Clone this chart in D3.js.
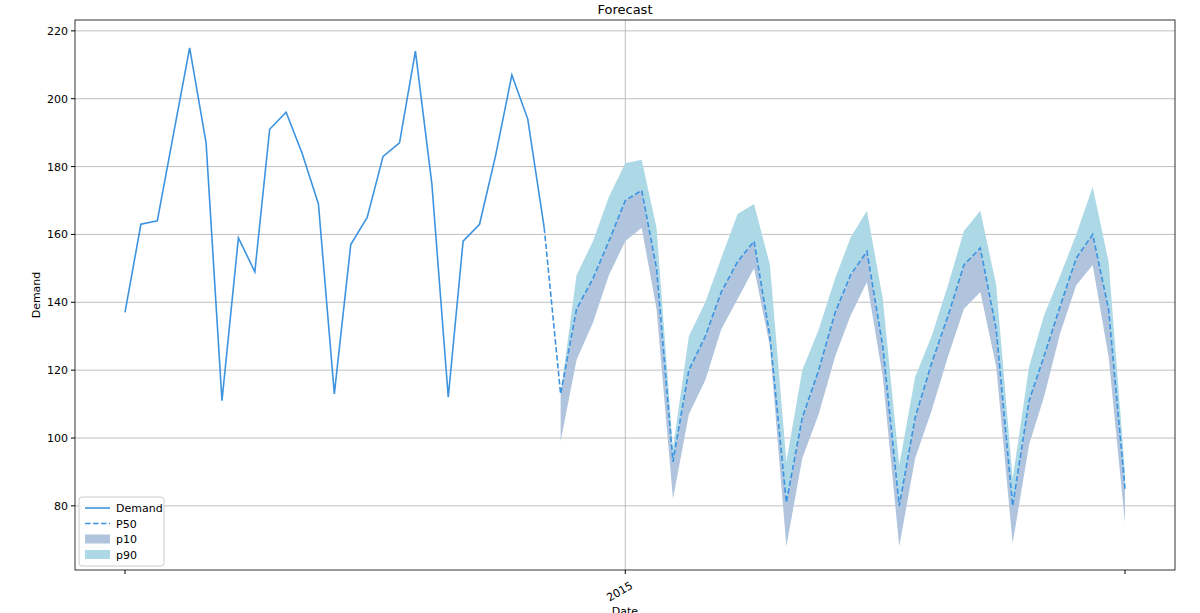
<!DOCTYPE html>
<html><head><meta charset="utf-8">
<script src="https://cdn.jsdelivr.net/npm/d3@7"></script>
<style>body{margin:0;background:#fff}text{font-family:"DejaVu Sans",sans-serif}</style>
</head><body><svg id="c" width="1200" height="613"></svg>
<script>
const demandStart = [2012, 5]; // June 2012
const demand = [137,163,164,190,215,187,111,159,149,191,196,184,169,113,157,165,183,187,214,175,112,158,163,183,207,194,162];
const forecastStart = [2014, 7]; // Aug 2014
const p50 = [162,113,138,147,158,170,173,150,93,120,130,143,152,158,130,81,106,120,137,148,155,127,80,106,122,136,151,156,132,80,111,124,139,153,160,138,85];
const p10 = [null,99,123,134,148,158,162,138,82,107,117,132,141,150,127,68,94,107,124,136,146,118,68,94,108,124,138,143,121,69,98,112,131,145,151,124,75];
const p90 = [null,113,148,158,171,181,182,162,97,130,140,153,166,169,151,93,120,132,147,159,167,141,92,118,130,145,161,167,145,88,121,136,148,160,174,152,90];
const yTicks = [80,100,120,140,160,180,200,220];
const xTickDates = [new Date(2012,5,1), new Date(2015,0,1), new Date(2017,7,1)];
const xTickLabels = ["", "2015", ""];

const svg = d3.select("#c");
const L=75,R=1175,T=20,B=570;
const x = d3.scaleTime().domain([new Date(2012,5,1), new Date(2017,7,1)]).range([125,1125]);
const y = d3.scaleLinear().domain([61.1,223.2]).range([B,T]);
const dd = demand.map((v,i)=>({d:new Date(demandStart[0],demandStart[1]+i,1),v}));
const fd = p50.map((v,i)=>({d:new Date(forecastStart[0],forecastStart[1]+i,1),v,lo:p10[i],hi:p90[i]}));
const col="#3c94e0";
// grid
svg.append("g").selectAll("line").data(yTicks).join("line").attr("x1",L).attr("x2",R)
 .attr("y1",d=>y(d)).attr("y2",d=>y(d)).attr("stroke","#b0b0b0").attr("stroke-width",0.8);
svg.append("line").attr("x1",x(xTickDates[1])).attr("x2",x(xTickDates[1])).attr("y1",T).attr("y2",B).attr("stroke","#b0b0b0").attr("stroke-width",0.8);
const band = fd.filter(d=>d.lo!=null);
svg.append("path").datum(band).attr("fill","#b0c4de").attr("d",d3.area().x(d=>x(d.d)).y0(d=>y(d.lo)).y1(d=>y(d.v)));
svg.append("path").datum(band).attr("fill","#add8e6").attr("d",d3.area().x(d=>x(d.d)).y0(d=>y(d.v)).y1(d=>y(d.hi)));
svg.append("path").datum(dd).attr("fill","none").attr("stroke",col).attr("stroke-width",1.6).attr("d",d3.line().x(d=>x(d.d)).y(d=>y(d.v)));
svg.append("path").datum(fd).attr("fill","none").attr("stroke",col).attr("stroke-width",1.6).attr("stroke-dasharray","5.5,2.5").attr("d",d3.line().x(d=>x(d.d)).y(d=>y(d.v)));
// frame
svg.append("rect").attr("x",L).attr("y",T).attr("width",R-L).attr("height",B-T).attr("fill","none").attr("stroke","#000").attr("stroke-width",0.8);
// y axis
const ya=svg.append("g");
yTicks.forEach(t=>{ya.append("line").attr("x1",L-4).attr("x2",L).attr("y1",y(t)).attr("y2",y(t)).attr("stroke","#000");
 ya.append("text").attr("x",L-7).attr("y",y(t)+4).attr("text-anchor","end").attr("font-size",11).text(t);});
xTickDates.forEach((t,i)=>{svg.append("line").attr("x1",x(t)).attr("x2",x(t)).attr("y1",B).attr("y2",B+4).attr("stroke","#000");
 if(xTickLabels[i]) svg.append("text").attr("transform",`translate(${x(t)+4},${B+10}) rotate(-30)`).attr("text-anchor","end").attr("dy","0.8em").attr("font-size",11).text(xTickLabels[i]);});
svg.append("text").attr("x",(L+R)/2).attr("y",14).attr("text-anchor","middle").attr("font-size",13).text("Forecast");
svg.append("text").attr("x",625).attr("y",615).attr("text-anchor","middle").attr("font-size",11).text("Date");
svg.append("text").attr("transform","translate(40,295) rotate(-90)").attr("text-anchor","middle").attr("font-size",11).text("Demand");
// legend
const lg=svg.append("g").attr("transform","translate(79,497)");
lg.append("rect").attr("width",85).attr("height",69).attr("rx",3).attr("fill","#fff").attr("fill-opacity",0.8).attr("stroke","#ccc");
const items=[["Demand","line"],["P50","dash"],["p10","#b0c4de"],["p90","#add8e6"]];
items.forEach((it,i)=>{const yy=11+i*15.5;
 if(it[1]==="line"||it[1]==="dash") lg.append("line").attr("x1",6).attr("x2",31).attr("y1",yy).attr("y2",yy).attr("stroke",col).attr("stroke-width",1.6).attr("stroke-dasharray",it[1]==="dash"?"5.5,2.5":null);
 else lg.append("rect").attr("x",6).attr("y",yy-4.5).attr("width",25).attr("height",9).attr("fill",it[1]);
 lg.append("text").attr("x",37).attr("y",yy+4).attr("font-size",11).text(it[0]);});
</script></body></html>
